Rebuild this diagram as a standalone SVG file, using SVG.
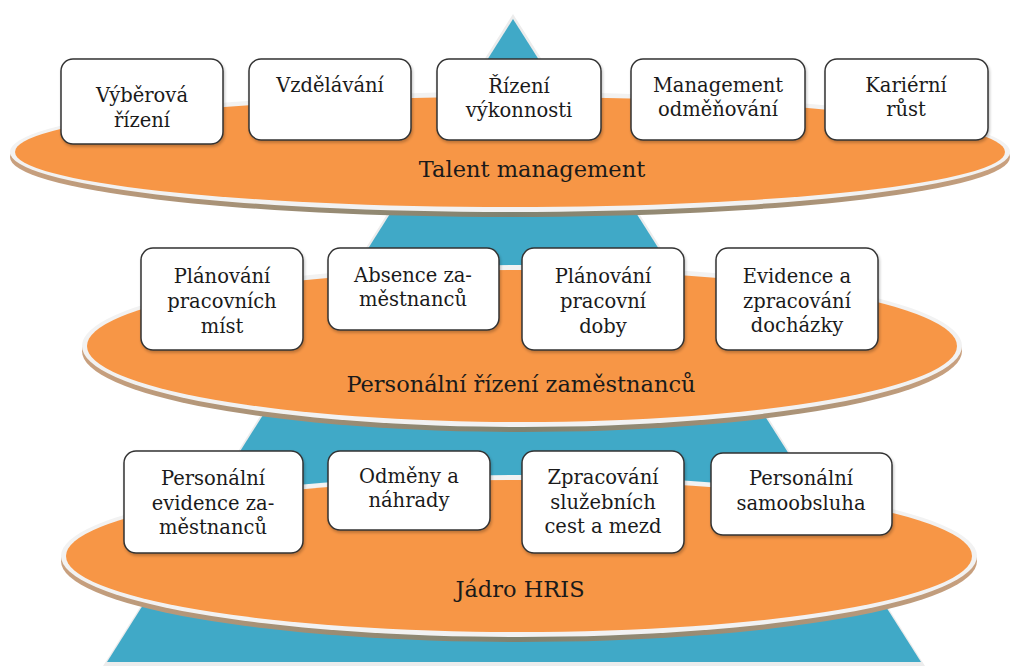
<svg xmlns="http://www.w3.org/2000/svg" width="1016" height="670" viewBox="0 0 1016 670">
<defs>
<linearGradient id="rimShadow" x1="0" y1="0" x2="1" y2="0">
<stop offset="0" stop-color="#c9a07e"/>
<stop offset="0.3" stop-color="#9a8c74"/>
<stop offset="0.5" stop-color="#7f8270"/>
<stop offset="0.7" stop-color="#9a8c74"/>
<stop offset="1" stop-color="#c9a07e"/>
</linearGradient>
<filter id="boxShadow" x="-10%" y="-10%" width="120%" height="130%">
<feGaussianBlur in="SourceAlpha" stdDeviation="1.5"/>
<feOffset dx="1" dy="2" result="b"/>
<feComponentTransfer><feFuncA type="linear" slope="0.25"/></feComponentTransfer>
<feMerge><feMergeNode/><feMergeNode in="SourceGraphic"/></feMerge>
</filter>
</defs>
<style>
.box{fill:#ffffff;stroke:#333333;stroke-width:1.5;filter:url(#boxShadow)}
.t{font-family:"DejaVu Serif","Liberation Serif",serif;font-size:19.5px;fill:#1a1a1a;text-anchor:middle}
.title{font-family:"DejaVu Serif","Liberation Serif",serif;font-size:22.5px;fill:#1a1a1a;text-anchor:middle}
.orange{fill:#f79646}
.rim{fill:#f2f2f2}
.sh{fill:url(#rimShadow)}
</style>
<rect width="1016" height="670" fill="#ffffff"/>
<g id="pyramid">
<polygon points="513,14 103,666 925,666" fill="#ececec"/>
<polygon points="513,19 107,662 921,662" fill="#40a9c7"/>
</g>
<g id="layer-talent">
<ellipse class="sh" cx="510" cy="157" rx="500" ry="60"/>
<ellipse class="rim" cx="510" cy="152" rx="500" ry="60"/>
<ellipse class="orange" cx="510" cy="152" rx="495" ry="55"/>
<text class="title" x="532" y="177">Talent management</text>
</g>
<g id="layer-personal">
<ellipse class="sh" cx="522" cy="351" rx="440" ry="81"/>
<ellipse class="rim" cx="522" cy="346" rx="440" ry="81"/>
<ellipse class="orange" cx="522" cy="346" rx="435" ry="76"/>
<text class="title" x="521" y="392">Personální řízení zaměstnanců</text>
</g>
<g id="layer-core">
<ellipse class="sh" cx="519" cy="561" rx="458" ry="81"/>
<ellipse class="rim" cx="519" cy="556" rx="458" ry="81"/>
<ellipse class="orange" cx="519" cy="556" rx="453" ry="76"/>
<text class="title" x="520" y="597">Jádro HRIS</text>
</g>
<g id="n-vyberova">
<rect class="box" x="61" y="59" width="162" height="85" rx="12"/>
<text class="t" x="142" y="102">Výběrová</text>
<text class="t" x="142" y="127">řízení</text>
</g>
<g id="n-vzdelavani">
<rect class="box" x="249" y="59" width="162" height="81" rx="12"/>
<text class="t" x="330" y="92">Vzdělávání</text>
</g>
<g id="n-rizeni-vykonnosti">
<rect class="box" x="437" y="59" width="164" height="81" rx="12"/>
<text class="t" x="519" y="93">Řízení</text>
<text class="t" x="519" y="117">výkonnosti</text>
</g>
<g id="n-management-odmenovani">
<rect class="box" x="631" y="59" width="174" height="81" rx="12"/>
<text class="t" x="718" y="92">Management</text>
<text class="t" x="718" y="116">odměňování</text>
</g>
<g id="n-karierni-rust">
<rect class="box" x="825" y="59" width="163" height="81" rx="12"/>
<text class="t" x="906" y="92">Kariérní</text>
<text class="t" x="906" y="116">růst</text>
</g>
<g id="n-planovani-mist">
<rect class="box" x="141" y="248" width="162" height="102" rx="12"/>
<text class="t" x="222" y="283">Plánování</text>
<text class="t" x="222" y="308">pracovních</text>
<text class="t" x="222" y="333">míst</text>
</g>
<g id="n-absence">
<rect class="box" x="328" y="248" width="171" height="82" rx="12"/>
<text class="t" x="413" y="282">Absence za-</text>
<text class="t" x="413" y="306">městnanců</text>
</g>
<g id="n-planovani-doby">
<rect class="box" x="522" y="248" width="162" height="102" rx="12"/>
<text class="t" x="603" y="283">Plánování</text>
<text class="t" x="603" y="308">pracovní</text>
<text class="t" x="603" y="333">doby</text>
</g>
<g id="n-evidence-dochazky">
<rect class="box" x="716" y="248" width="162" height="102" rx="12"/>
<text class="t" x="797" y="283">Evidence a</text>
<text class="t" x="797" y="308">zpracování</text>
<text class="t" x="797" y="332">docházky</text>
</g>
<g id="n-personalni-evidence">
<rect class="box" x="124" y="451" width="179" height="102" rx="12"/>
<text class="t" x="213" y="485">Personální</text>
<text class="t" x="213" y="510">evidence za-</text>
<text class="t" x="213" y="534">městnanců</text>
</g>
<g id="n-odmeny">
<rect class="box" x="328" y="451" width="162" height="79" rx="12"/>
<text class="t" x="409" y="483">Odměny a</text>
<text class="t" x="409" y="507">náhrady</text>
</g>
<g id="n-zpracovani-cest">
<rect class="box" x="522" y="451" width="162" height="102" rx="12"/>
<text class="t" x="603" y="484">Zpracování</text>
<text class="t" x="603" y="509">služebních</text>
<text class="t" x="603" y="533">cest a mezd</text>
</g>
<g id="n-samoobsluha">
<rect class="box" x="711" y="453" width="181" height="82" rx="12"/>
<text class="t" x="801" y="485">Personální</text>
<text class="t" x="801" y="510">samoobsluha</text>
</g>
</svg>
